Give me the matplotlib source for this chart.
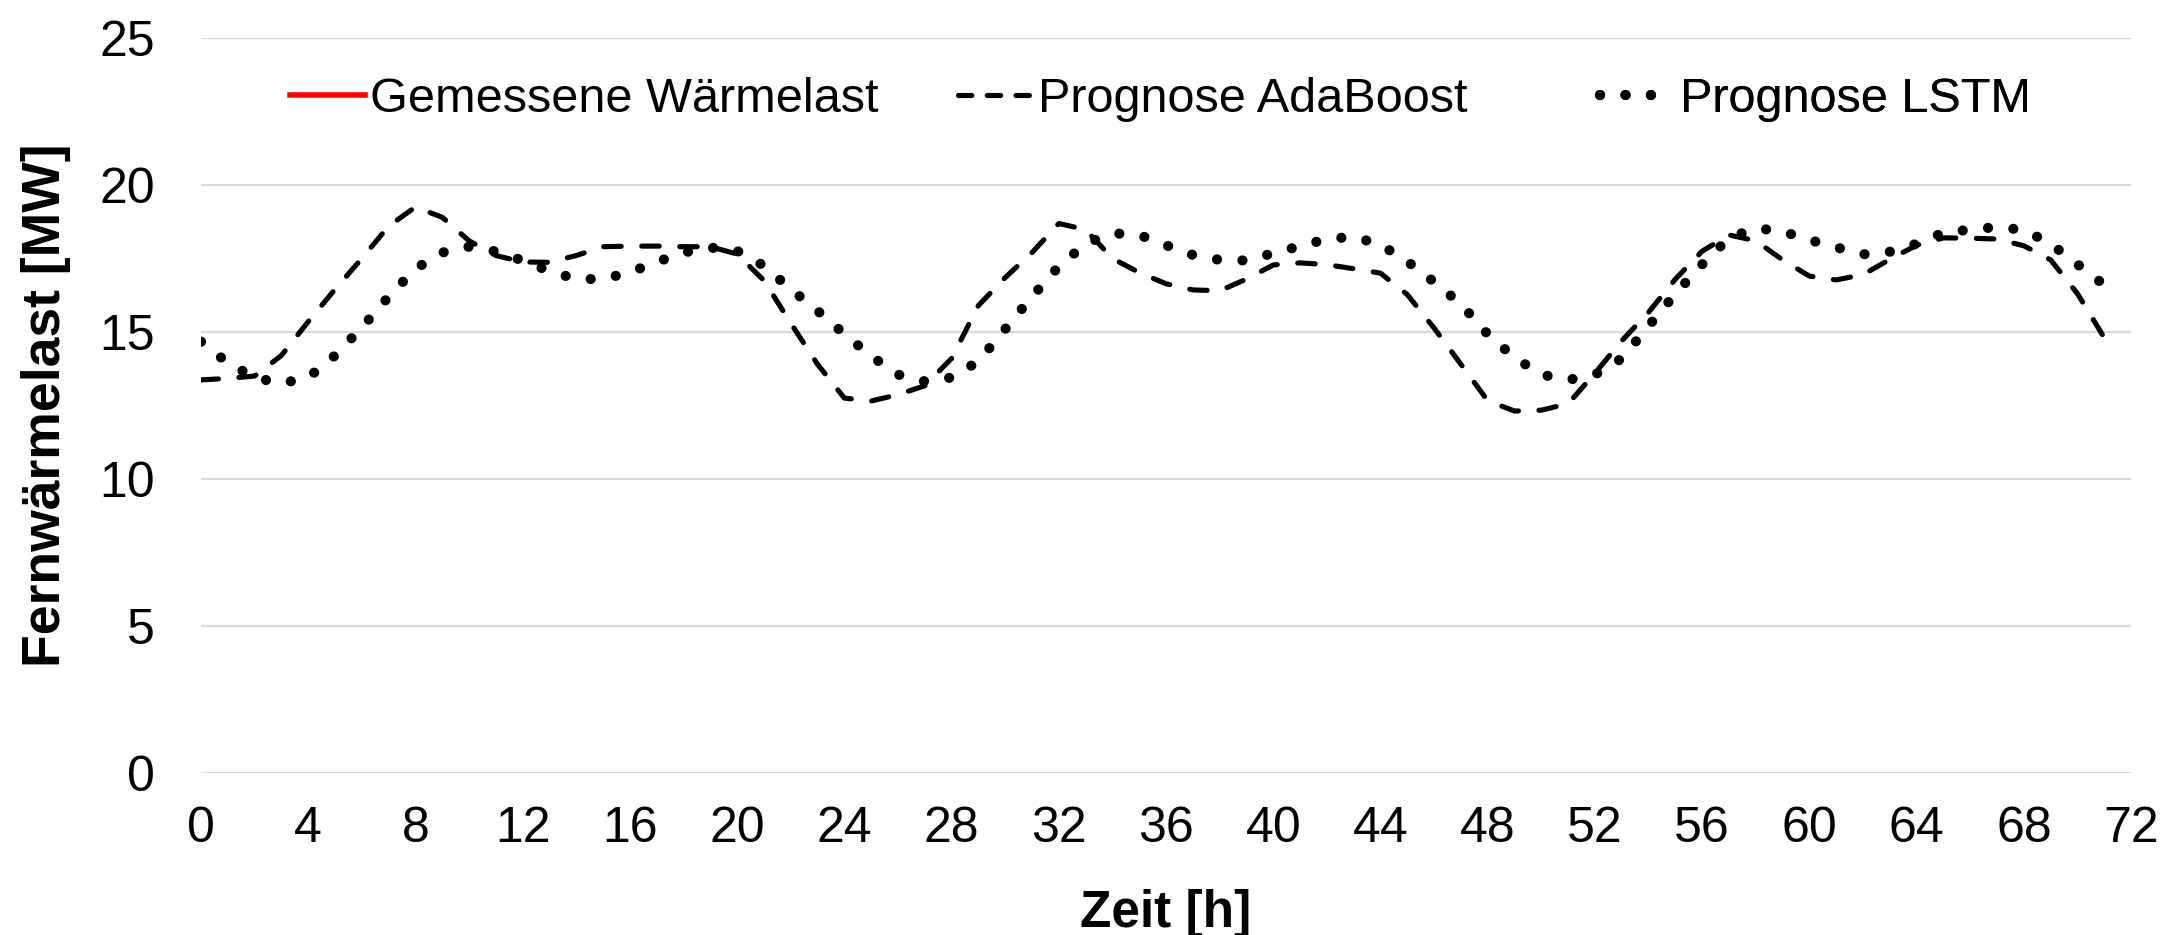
import matplotlib
matplotlib.use("Agg")
import matplotlib.pyplot as plt
from matplotlib.lines import Line2D

plt.rcParams['font.family'] = ['Liberation Sans', 'DejaVu Sans']

hours = list(range(72))

# Prognose AdaBoost [MW]
adaboost = [13.37, 13.42, 13.5, 14.2, 15.35, 16.45, 17.5, 18.6, 19.25, 18.9,
            18.1, 17.6, 17.38, 17.37, 17.6, 17.9, 17.92, 17.92, 17.9, 17.9,
            17.65, 16.75, 15.3, 13.9, 12.75, 12.65, 12.87, 13.17, 14.1, 15.9,
            16.85, 17.7, 18.69, 18.48, 17.5, 17.02, 16.64, 16.43, 16.4, 16.8,
            17.28, 17.35, 17.29, 17.15, 17.0, 16.27, 15.13, 13.9, 12.66, 12.31,
            12.34, 12.56, 13.6, 14.7, 15.67, 16.8, 17.75, 18.3, 18.1, 17.45,
            16.9, 16.77, 16.95, 17.47, 17.95, 18.2, 18.19, 18.16, 17.93, 17.45,
            16.3, 14.8]

# Prognose LSTM [MW]
lstm = [14.67, 13.95, 13.45, 13.25, 13.45, 14.2, 15.15, 16.2, 17.15, 17.7,
        17.9, 17.74, 17.43, 17.07, 16.8, 16.8, 17.03, 17.38, 17.7, 17.87,
        17.76, 17.25, 16.46, 15.72, 14.93, 14.18, 13.55, 13.32, 13.45, 14.0,
        15.1, 16.2, 17.23, 18.0, 18.36, 18.3, 17.95, 17.62, 17.45, 17.43,
        17.68, 17.92, 18.16, 18.24, 17.97, 17.4, 16.7, 15.95, 14.92, 14.13,
        13.55, 13.37, 13.55, 14.1, 15.2, 16.3, 17.3, 18.2, 18.53, 18.42,
        18.13, 17.88, 17.64, 17.73, 18.0, 18.38, 18.48, 18.57, 18.47, 18.0,
        17.3, 16.6]

# Gemessene Waermelast: not visible in the chart, only in the legend
measured = []

x_ticks = list(range(0, 73, 4))
y_ticks = [0, 5, 10, 15, 20, 25]

DASH = dict(color='black', lw=3.7, dashes=(3.4, 4.0), dash_capstyle='round')
DOTS = dict(color='black', lw=7.3, dashes=(0.01, 2.5), dash_capstyle='round')

fig = plt.figure(figsize=(21.68, 9.35), dpi=100)
ax = fig.add_axes([0.0927, 0.1733, 0.8903, 0.7861])

ax.plot(hours[:len(measured)], measured, color='red', lw=3.2)
ax.plot(hours, adaboost, **DASH)
ax.plot(hours, lstm, **DOTS)

ax.set_xlim(0, 72)
ax.set_ylim(0, 25)
ax.set_xticks(x_ticks)
ax.set_yticks(y_ticks)
ax.tick_params(axis='both', length=0, labelsize=36)
ax.tick_params(axis='x', pad=24)
ax.tick_params(axis='y', pad=33)
ax.grid(axis='y', color='#d9d9d9', lw=1.6)
ax.set_axisbelow(True)
for s in ax.spines.values():
    s.set_visible(False)

ax.set_xlabel('Zeit [h]', fontsize=37, fontweight='bold')
ax.xaxis.set_label_coords(0.5, -0.158)
ax.set_ylabel('Fernwärmelast [MW]', fontsize=38.5, fontweight='bold')
ax.yaxis.set_label_coords(-0.0803, 0.5)
ax.yaxis.label.set_va('center')

entries = [
    (Line2D([], [], color='red', lw=4), 'Gemessene Wärmelast', 0.0461),
    (Line2D([], [], color='black', lw=3.7, dashes=(2.6, 3.0), dash_capstyle='round'),
     'Prognose AdaBoost', 0.3922),
    (Line2D([], [], **DOTS), 'Prognose LSTM', 0.7249),
]
for handle, label, xpos in entries:
    leg = ax.legend([handle], [label], loc='center left',
                    bbox_to_anchor=(xpos, 0.9156), frameon=False,
                    fontsize=35, handlelength=1.55, handletextpad=0.1,
                    borderpad=0, borderaxespad=0)
    ax.add_artist(leg)

fig.savefig('out.png', dpi=100)
